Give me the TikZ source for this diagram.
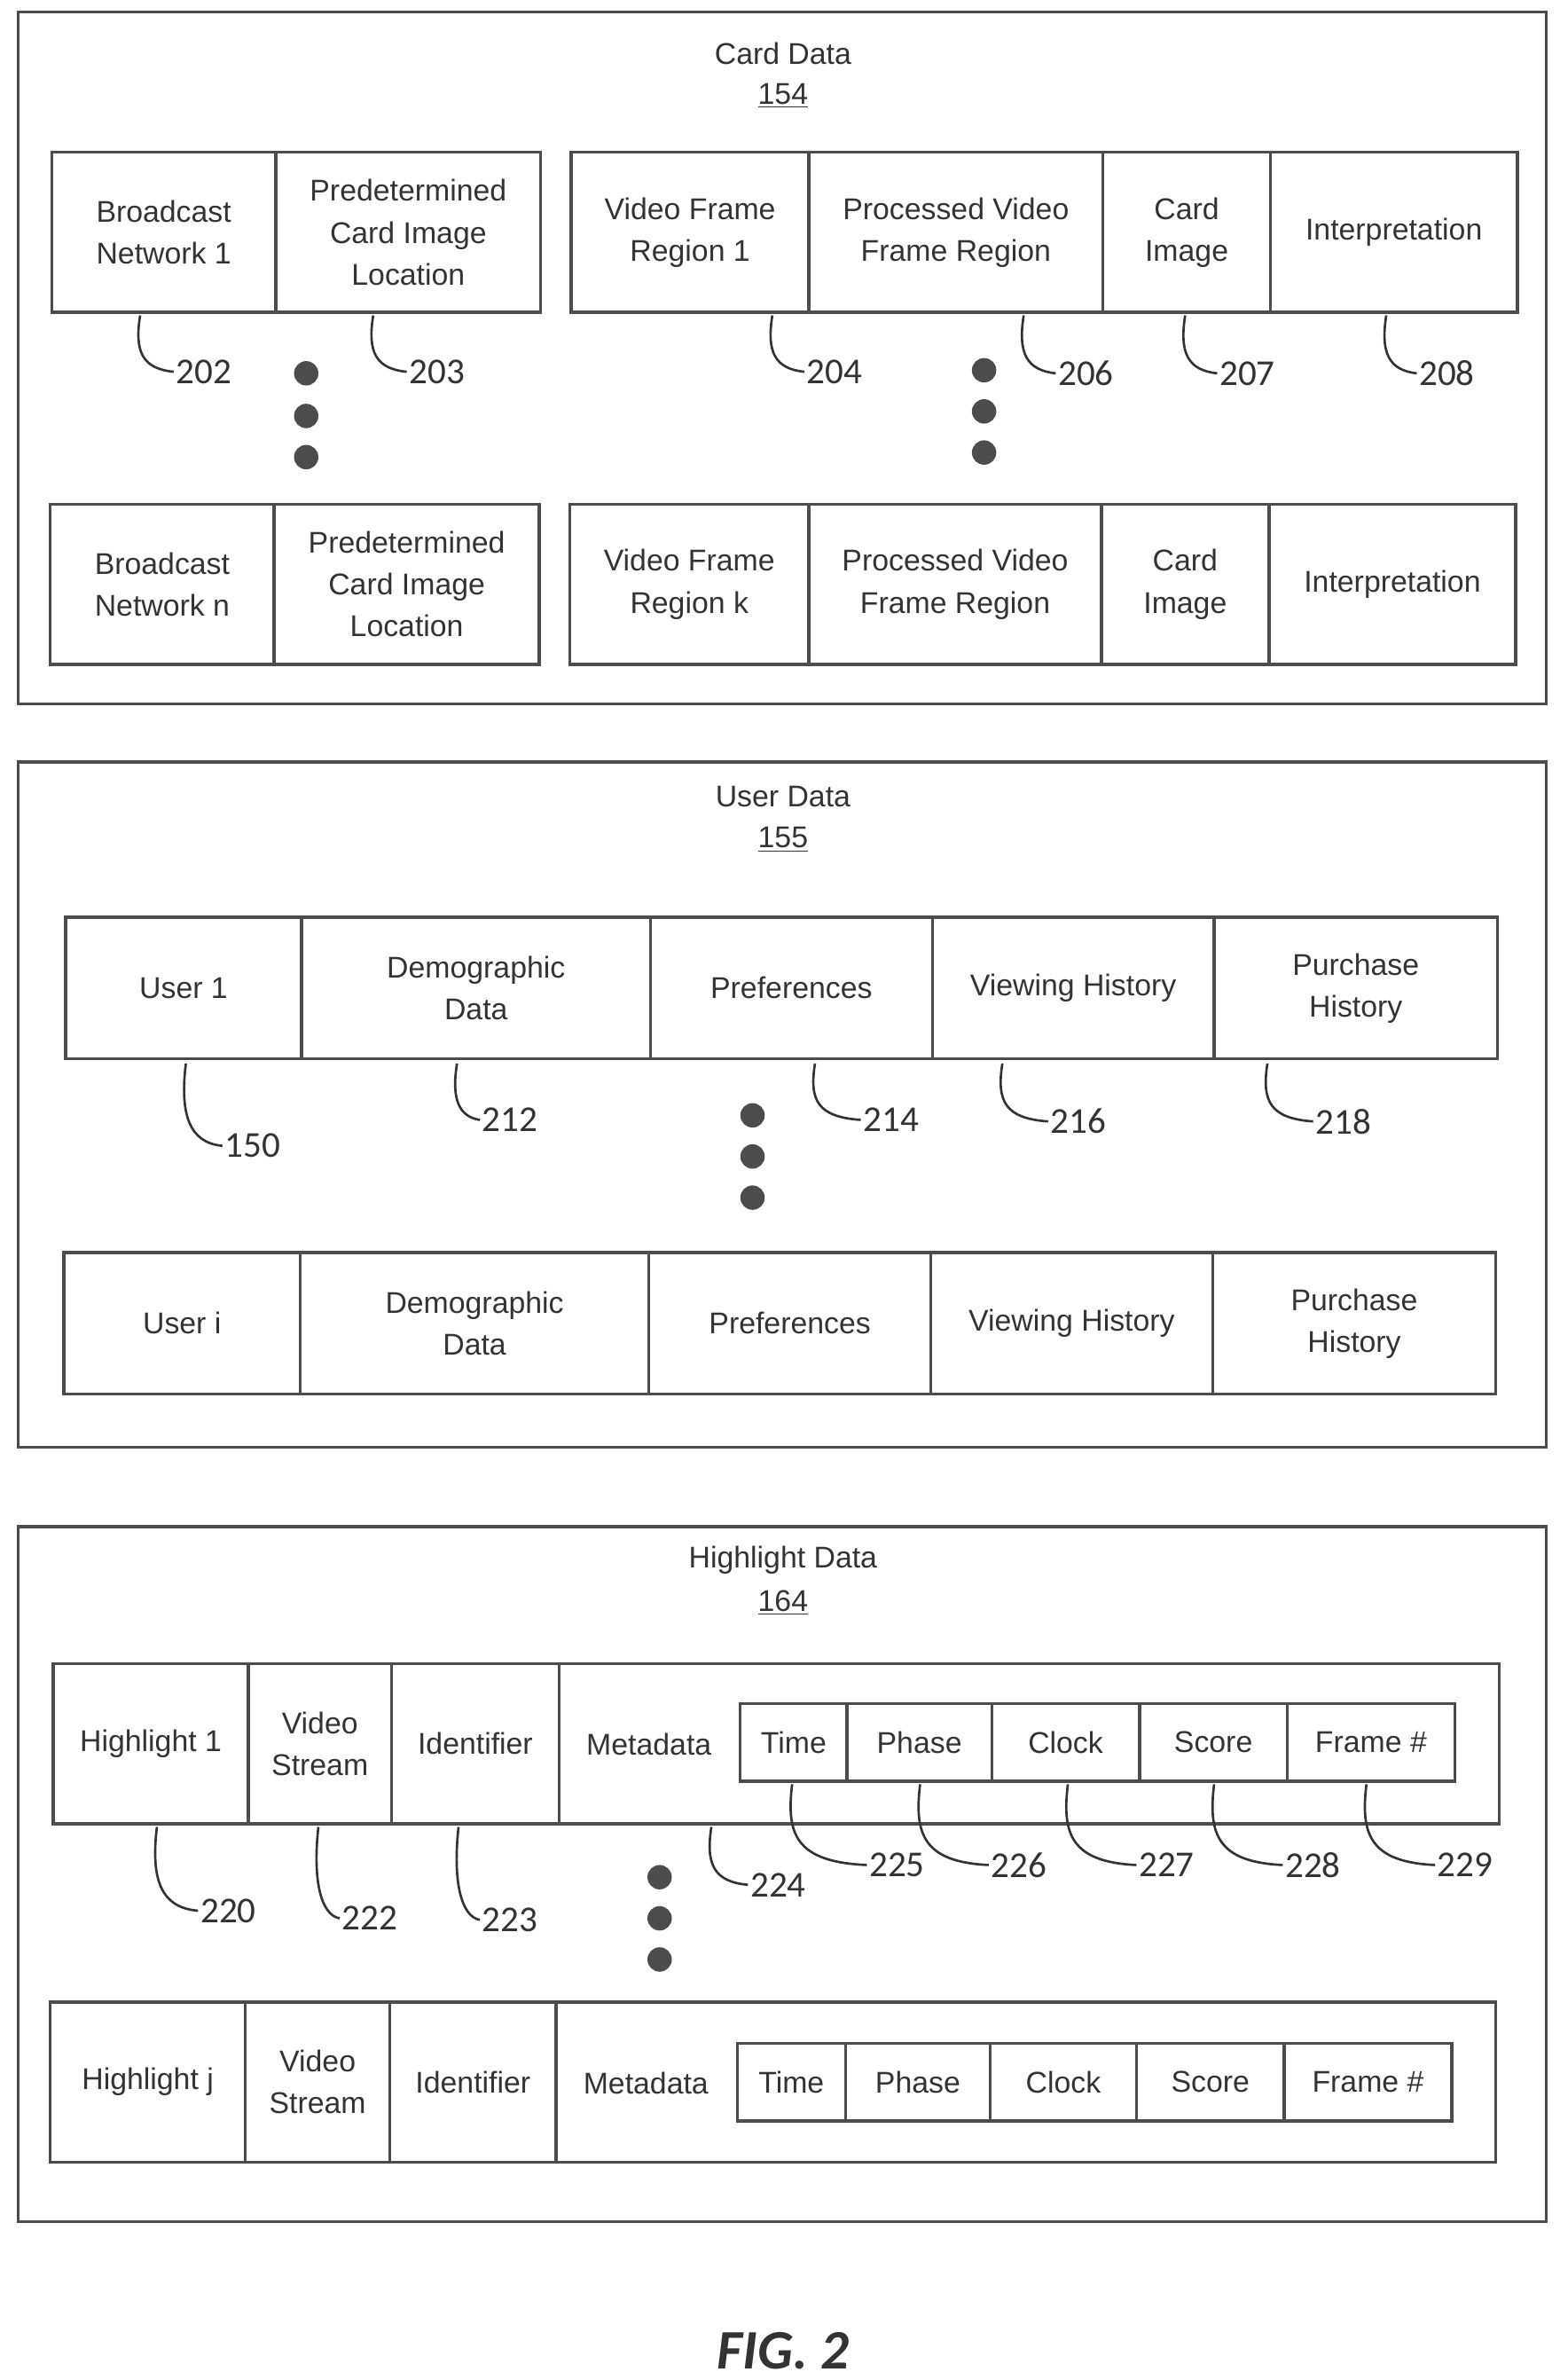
\documentclass[tikz,border=0pt]{standalone}
\usepackage{fontspec}
\setmainfont{Liberation Sans}
\newfontfamily\numfont{Carlito}
\usetikzlibrary{calc}

\tikzset{
  frame/.style={draw=black!70, line width=1.4pt},
  cell/.style={draw=black!70, line width=1.4pt, align=center, inner sep=0pt,
    font=\fontsize{14}{19.5}\selectfont, text=black!80},
  title/.style={font=\fontsize{14}{17}\selectfont, text=black!80},
  refnum/.style={font=\numfont\fontsize{17}{20}\selectfont, text=black!80, anchor=west, inner sep=1pt},
  lead/.style={draw=black!80, line width=1.1pt},
  dot/.style={circle, fill=black!70, minimum size=0.4cm, inner sep=0pt},
}

% cell: name, x1, x2, y1, y2, text (pixel coordinates)
\newcommand{\cell}[6]{%
  \node[cell, minimum width={(#3-#2)*0.025cm}, minimum height={(#5-#4)*0.025cm}]
    (#1) at ({(#2+#3)/2},{(#4+#5)/2}) {#6};}
% leader: start x, start y, label name, label x, label y, text
\newcommand{\leader}[6]{%
  \node[refnum] (#3) at (#4,#5) {#6};
  \coordinate (#3s) at (#1,#2);
  \draw[lead] (#3s) .. controls ({#1-4},{(#2+#5)/2+6}) and ({#1+2},{#5-2}) .. (#3.west);}

\begin{document}
\begin{tikzpicture}[x=0.025cm, y=-0.025cm]
  \useasboundingbox (0,0) rectangle (1024,1562);

  % Card Data
  \draw[frame] (12,8) rectangle (1015,462);
  \node[title] (cardT) at (514,35) {Card Data};
  \node[title] (cardN) at (514,63) {\underline{154}};
  \cell{bn1}{34}{181}{100}{205}{Broadcast\\Network 1}
  \cell{pci1}{181}{355}{100}{205}{Predetermined\\Card Image\\Location}
  \cell{vfr1}{375}{531}{100}{205}{Video Frame\\Region 1}
  \cell{pvf1}{531}{724}{100}{205}{Processed Video\\Frame Region}
  \cell{ci1}{724}{834}{100}{205}{Card\\Image}
  \cell{int1}{834}{996}{100}{205}{Interpretation}
  \cell{bnn}{33}{180}{331}{436}{Broadcast\\Network n}
  \cell{pcin}{180}{354}{331}{436}{Predetermined\\Card Image\\Location}
  \cell{vfrk}{374}{531}{331}{436}{Video Frame\\Region k}
  \cell{pvfk}{531}{723}{331}{436}{Processed Video\\Frame Region}
  \cell{cik}{723}{833}{331}{436}{Card\\Image}
  \cell{intk}{833}{995}{331}{436}{Interpretation}
  \leader{92}{207}{n202}{114}{244}{202}
  \leader{245}{207}{n203}{267}{244}{203}
  \leader{507}{207}{n204}{528}{244}{204}
  \leader{672}{207}{n206}{693}{245}{206}
  \leader{778}{207}{n207}{799}{245}{207}
  \leader{910}{207}{n208}{930}{245}{208}
  \foreach \y in {245,273,300} \node[dot] at (201,\y) {};
  \foreach \y in {243,270,297} \node[dot] at (646,\y) {};

  % User Data
  \draw[frame] (12,500) rectangle (1015,950);
  \node[title] (userT) at (514,523) {User Data};
  \node[title] (userN) at (514,551) {\underline{155}};
  \cell{u1}{43}{198}{602}{695}{User 1}
  \cell{dem1}{198}{427}{602}{695}{Demographic\\Data}
  \cell{pref1}{427}{612}{602}{695}{Preferences}
  \cell{view1}{612}{797}{602}{695}{Viewing History}
  \cell{pur1}{797}{983}{602}{695}{Purchase\\History}
  \cell{ui}{42}{197}{822}{915}{User i}
  \cell{demi}{197}{426}{822}{915}{Demographic\\Data}
  \cell{prefi}{426}{611}{822}{915}{Preferences}
  \cell{viewi}{611}{796}{822}{915}{Viewing History}
  \cell{puri}{796}{982}{822}{915}{Purchase\\History}
  \leader{122}{698}{n150}{146}{752}{150}
  \leader{300}{698}{n212}{315}{735}{212}
  \leader{535}{698}{n214}{565}{735}{214}
  \leader{658}{698}{n216}{688}{736}{216}
  \leader{832}{698}{n218}{862}{736}{218}
  \foreach \y in {732,759,786} \node[dot] at (494,\y) {};

  % Highlight Data
  \draw[frame] (12,1002) rectangle (1015,1458);
  \node[title] (hlT) at (514,1024) {Highlight Data};
  \node[title] (hlN) at (514,1052) {\underline{164}};
  \cell{h1}{35}{163}{1092}{1197}{Highlight 1}
  \cell{vs1}{163}{257}{1092}{1197}{Video\\Stream}
  \cell{id1}{257}{367}{1092}{1197}{Identifier}
  \cell{md1}{367}{984}{1092}{1197}{}
  \node[cell, draw=none] (mdT1) at (426,1145) {Metadata};
  \cell{tm1}{486}{556}{1118}{1169}{Time}
  \cell{ph1}{556}{651}{1118}{1169}{Phase}
  \cell{cl1}{651}{748}{1118}{1169}{Clock}
  \cell{sc1}{748}{845}{1118}{1169}{Score}
  \cell{fr1}{845}{955}{1118}{1169}{Frame \#}
  \cell{hj}{33}{161}{1314}{1419}{Highlight j}
  \cell{vsj}{161}{256}{1314}{1419}{Video\\Stream}
  \cell{idj}{256}{365}{1314}{1419}{Identifier}
  \cell{mdj}{365}{982}{1314}{1419}{}
  \node[cell, draw=none] (mdTj) at (424,1367) {Metadata};
  \cell{tmj}{484}{555}{1341}{1392}{Time}
  \cell{phj}{555}{650}{1341}{1392}{Phase}
  \cell{clj}{650}{746}{1341}{1392}{Clock}
  \cell{scj}{746}{843}{1341}{1392}{Score}
  \cell{frj}{843}{953}{1341}{1392}{Frame \#}
  \leader{103}{1199}{n220}{130}{1254}{220}
  \leader{209}{1199}{n222}{223}{1259}{222}
  \leader{301}{1199}{n223}{315}{1260}{223}
  \leader{467}{1199}{n224}{491}{1237}{224}
  \leader{520}{1171}{n225}{569}{1224}{225}
  \leader{604}{1171}{n226}{649}{1224}{226}
  \leader{701}{1171}{n227}{746}{1224}{227}
  \leader{797}{1171}{n228}{842}{1224}{228}
  \leader{897}{1171}{n229}{942}{1224}{229}
  \foreach \y in {1232,1259,1286} \node[dot] at (433,\y) {};

  \node[font=\numfont\bfseries\itshape\fontsize{26}{30}\selectfont, text=black!80] (fig) at (514,1543) {FIG. 2};
\end{tikzpicture}
\end{document}
